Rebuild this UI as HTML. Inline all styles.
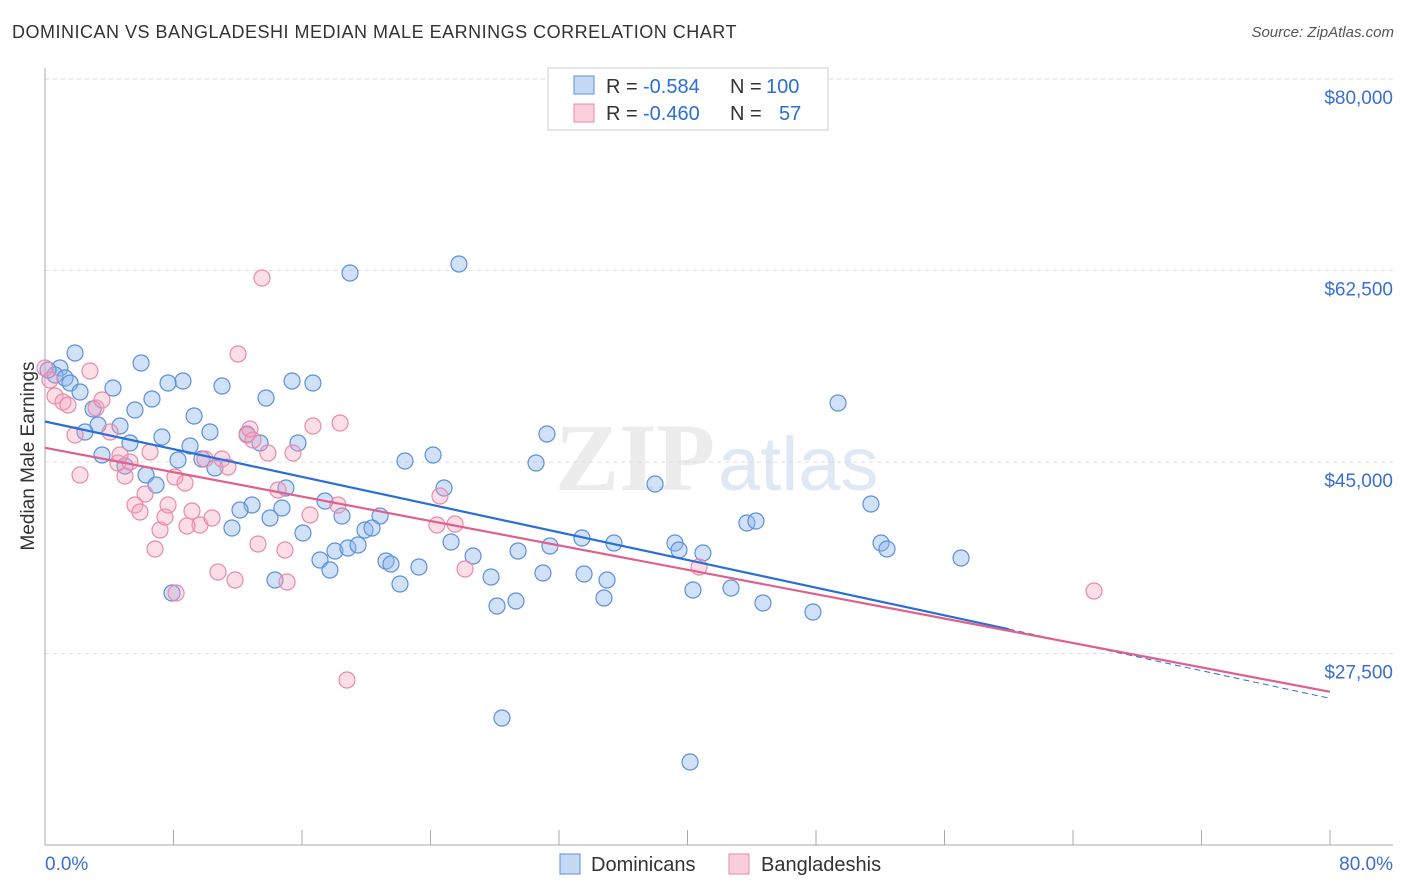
<!DOCTYPE html>
<html><head><meta charset="utf-8">
<style>
body{margin:0;background:#fff;font-family:"Liberation Sans",sans-serif;}
#wrap{position:relative;width:1406px;height:892px;overflow:hidden;}
.t{position:absolute;white-space:nowrap;}
</style></head><body>
<div id="wrap">
<div class="t" style="left:12px;top:22px;font-size:18px;letter-spacing:0.5px;color:#333;">DOMINICAN VS BANGLADESHI MEDIAN MALE EARNINGS CORRELATION CHART</div>
<div class="t" style="right:12px;top:24px;font-size:15px;color:#555;font-style:italic;">Source: ZipAtlas.com</div>
<svg id="svg" width="1406" height="892" style="position:absolute;left:0;top:0"></svg>
</div>
<script>
const yTicks=[80000,62500,45000,27500];
const yTickLabels=["$80,000","$62,500","$45,000","$27,500"];
const xTickLabels=["0.0%","80.0%"];
const bluePx=[[75,353],[60,368],[55,375],[65,378],[70,383],[48,370],[80,392],[113,388],[141,363],[183,381],[168,383],[222,386],[152,399],[135,410],[93,409],[120,426],[98,425],[85,432],[194,416],[210,432],[162,437],[190,446],[130,443],[102,455],[146,475],[125,466],[156,485],[178,460],[202,459],[215,468],[247,434],[260,443],[266,398],[292,381],[313,383],[298,443],[350,273],[459,264],[286,488],[325,501],[270,518],[252,505],[232,528],[240,510],[303,533],[282,508],[342,516],[380,516],[365,530],[372,528],[320,560],[335,551],[330,570],[348,548],[358,545],[386,561],[391,564],[419,567],[400,584],[405,461],[433,455],[444,488],[451,542],[473,556],[491,577],[497,606],[516,601],[518,551],[543,573],[550,546],[536,463],[547,434],[582,538],[584,574],[607,580],[604,598],[614,543],[655,484],[675,543],[679,550],[703,553],[693,590],[731,588],[747,523],[756,521],[763,603],[813,612],[838,403],[871,504],[881,543],[887,549],[961,558],[502,718],[690,762],[275,580],[172,593]];
const pinkPx=[[45,368],[50,380],[55,396],[63,402],[68,405],[90,371],[96,408],[102,400],[75,435],[80,475],[110,432],[118,463],[125,476],[130,462],[145,494],[135,505],[140,512],[150,452],[155,549],[160,530],[165,517],[168,505],[175,477],[185,483],[192,511],[200,525],[205,459],[212,518],[218,572],[222,459],[228,467],[235,580],[238,354],[247,435],[250,429],[258,544],[262,278],[268,453],[278,490],[285,550],[287,582],[293,453],[310,515],[313,426],[338,505],[340,423],[347,680],[437,525],[440,496],[455,524],[465,569],[699,567],[1094,591],[176,593],[187,526],[253,440],[120,455]];
const blueX=bluePx.map(p=>+((p[0]-45)/1285*80).toFixed(2));
const blueY=bluePx.map(p=>Math.round(80000-(p[1]-79)/191.5*17500));
const pinkX=pinkPx.map(p=>+((p[0]-45)/1285*80).toFixed(2));
const pinkY=pinkPx.map(p=>Math.round(80000-(p[1]-79)/191.5*17500));
const blueLine=[[0,48700],[80,23400]];
const pinkLine=[[0,46300],[80,24000]];

const X=v=>45+v/80*1285;
const Y=v=>79+(80000-v)/17500*191.5;
const svg=document.getElementById('svg');
const NS='http://www.w3.org/2000/svg';
function mk(tag,attrs,name){const e=document.createElementNS(NS,tag);for(const k in attrs)e.setAttribute(k,attrs[k]);


svg.appendChild(e);return e;}
let w=mk('text',{x:555,y:490,'font-size':96,'font-family':'Liberation Serif,serif',fill:'#ececec','font-weight':'bold'},'watermark-zip');w.textContent='ZIP';
w=mk('text',{x:718,y:490,'font-size':76,'font-family':'Liberation Sans,sans-serif',fill:'#dfe8f4'},'watermark-atlas');w.textContent='atlas';
yTicks.forEach((t,i)=>{
 mk('line',{x1:45,x2:1393,y1:Y(t),y2:Y(t),stroke:'#dddddd','stroke-dasharray':'4,4'},'gridline');
 const tx=mk('text',{x:1393,y:Y(t)+25,'text-anchor':'end','font-size':19,fill:'#3a6fd0'},'y-tick-label');tx.textContent=yTickLabels[i];
});
mk('line',{x1:45,x2:45,y1:68,y2:845,stroke:'#aaa'},'y-axis');
mk('line',{x1:45,x2:1393,y1:845,y2:845,stroke:'#aaa'},'x-axis');
for(let i=0;i<=10;i++){mk('line',{x1:X(i*8),x2:X(i*8),y1:830,y2:845,stroke:'#aaa'},'x-tick');}
let tx=mk('text',{x:45,y:870,'font-size':19,fill:'#3a6fd0'},'x-tick-label');tx.textContent=xTickLabels[0];
tx=mk('text',{x:1393,y:870,'font-size':19,fill:'#3a6fd0','text-anchor':'end'},'x-tick-label');tx.textContent=xTickLabels[1];
tx=mk('text',{x:34,y:456,'font-size':19,fill:'#333','text-anchor':'middle',transform:'rotate(-90 34 456)'},'y-axis-title');tx.textContent='Median Male Earnings';
blueX.forEach((x,i)=>mk('circle',{cx:X(x),cy:Y(blueY[i]),r:8,fill:'rgba(140,180,235,0.4)',stroke:'#5b90dd','stroke-width':1.2},'dominican-point'));
pinkX.forEach((x,i)=>mk('circle',{cx:X(x),cy:Y(pinkY[i]),r:8,fill:'rgba(245,160,185,0.35)',stroke:'#ea8aa8','stroke-width':1.2},'bangladeshi-point'));
const bAt=x=>blueLine[0][1]+(blueLine[1][1]-blueLine[0][1])*(x-blueLine[0][0])/(blueLine[1][0]-blueLine[0][0]);
mk('line',{x1:X(0),y1:Y(bAt(0)),x2:X(60),y2:Y(bAt(60)),stroke:'#2a6fd6','stroke-width':2.2},'dominican-trendline');
mk('line',{x1:X(60),y1:Y(bAt(60)),x2:X(80),y2:Y(bAt(80)),stroke:'#2a6fd6','stroke-width':1,'stroke-dasharray':'6,4'},'dominican-trendline-extension');
mk('line',{x1:X(pinkLine[0][0]),y1:Y(pinkLine[0][1]),x2:X(pinkLine[1][0]),y2:Y(pinkLine[1][1]),stroke:'#e0608c','stroke-width':2.2},'bangladeshi-trendline');
mk('rect',{x:548,y:68,width:280,height:62,fill:'#fff',stroke:'#ccc'},'legend-box');
mk('rect',{x:574,y:76,width:20,height:18,fill:'rgba(140,180,235,0.5)',stroke:'#5b90dd'},'legend-swatch-blue');
mk('rect',{x:574,y:104,width:20,height:18,fill:'rgba(245,160,185,0.5)',stroke:'#ea8aa8'},'legend-swatch-pink');
function lt(x,y,s,c,n){const t=mk('text',{x:x,y:y,'font-size':20,fill:c},n);t.textContent=s;}
lt(606,93,'R =','#333','legend-r-label');lt(643,93,'-0.584','#2a6fd6','legend-r-blue');lt(730,93,'N =','#333','legend-n-label');lt(766,93,'100','#2a6fd6','legend-n-blue');
lt(606,120,'R =','#333','legend-r-label');lt(643,120,'-0.460','#2a6fd6','legend-r-pink');lt(730,120,'N =','#333','legend-n-label');lt(779,120,'57','#2a6fd6','legend-n-pink');
mk('rect',{x:560,y:854,width:20,height:20,fill:'rgba(140,180,235,0.5)',stroke:'#5b90dd'},'bottom-legend-swatch-dominicans');
lt(591,871,'Dominicans','#333','bottom-legend-dominicans');
mk('rect',{x:729,y:854,width:20,height:20,fill:'rgba(245,160,185,0.5)',stroke:'#ea8aa8'},'bottom-legend-swatch-bangladeshis');
lt(761,871,'Bangladeshis','#333','bottom-legend-bangladeshis');
</script>
</body></html>
